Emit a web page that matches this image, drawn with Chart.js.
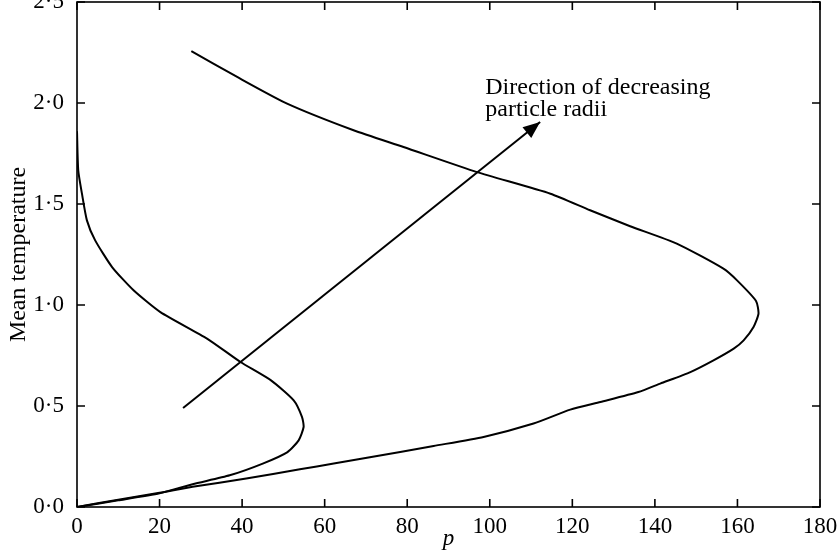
<!DOCTYPE html>
<html>
<head>
<meta charset="utf-8">
<script src="https://cdn.jsdelivr.net/npm/chart.js@4.4.0/dist/chart.umd.min.js"></script>
<style>
  body { margin: 0; background: #fff; }
  #wrap { width: 837px; height: 557px; }
</style>
</head>
<body>
<div id="wrap"><canvas id="radii"></canvas></div>
<script>
// inner branch (S shaped, comes back to the axis)
const innerP = [0, 10, 20, 28, 37, 45, 51, 53.7, 54.9, 54.5, 52.5, 47, 39.6, 31.5, 20.2, 13.7, 8.5, 4.4, 2.4, 1.2, 0.3, 0];
const innerT = [0, 0.033, 0.068, 0.113, 0.157, 0.215, 0.272, 0.33, 0.396, 0.446, 0.528, 0.627, 0.718, 0.834, 0.965, 1.073, 1.188, 1.32, 1.419, 1.551, 1.667, 1.86];

// outer branch
const outerP = [0, 10, 20, 28, 41, 54, 62.2, 78.3, 86.4, 98.5, 110.6, 119.5, 126.8, 136, 141.3, 148.6, 154.2, 159.1, 161.5, 163.9, 165.1, 164.5, 159.9, 156.6, 145.3, 134, 124.3, 114.7, 96.9, 79.1, 67, 50.9, 38.8, 27.7];
const outerT = [0, 0.036, 0.07, 0.1, 0.141, 0.187, 0.215, 0.272, 0.302, 0.347, 0.413, 0.482, 0.52, 0.569, 0.611, 0.668, 0.726, 0.784, 0.825, 0.891, 0.957, 1.02, 1.122, 1.18, 1.304, 1.39, 1.469, 1.551, 1.658, 1.782, 1.865, 1.997, 2.129, 2.257];

// arrow, tail then tip
const arrowP = [25.7, 112.2];
const arrowT = [0.49, 1.906];

const xTicks = [0, 20, 40, 60, 80, 100, 120, 140, 160, 180];
const yTicks = [0, 0.5, 1.0, 1.5, 2.0, 2.5];
const noteLines = ["Direction of decreasing", "particle radii"];

const serif = '"Liberation Serif", "DejaVu Serif", serif';
const fmt = v => v.toFixed(1).replace('.', '\u00b7');
const pts = (xs, ys) => xs.map((x, i) => ({ x: x, y: ys[i] }));

// frame, inward ticks on all four sides, y labels, arrow head and note
const frame = {
    id: 'frame',
    afterDatasetsDraw(chart) {
        const ctx = chart.ctx;
        const a = chart.chartArea;
        const x = chart.scales.x, y = chart.scales.y;
        ctx.save();
        ctx.strokeStyle = '#000';
        ctx.fillStyle = '#000';
        ctx.lineWidth = 1.6;
        ctx.strokeRect(a.left, a.top, a.right - a.left, a.bottom - a.top);
        ctx.beginPath();
        xTicks.forEach(v => {
            const px = x.getPixelForValue(v);
            ctx.moveTo(px, a.bottom); ctx.lineTo(px, a.bottom - 8);
            ctx.moveTo(px, a.top); ctx.lineTo(px, a.top + 8);
        });
        yTicks.forEach(v => {
            const py = y.getPixelForValue(v);
            ctx.moveTo(a.left, py); ctx.lineTo(a.left + 8, py);
            ctx.moveTo(a.right, py); ctx.lineTo(a.right - 8, py);
        });
        ctx.stroke();

        ctx.font = '23px ' + serif;
        ctx.textAlign = 'right';
        ctx.textBaseline = 'middle';
        yTicks.forEach(v => ctx.fillText(fmt(v), a.left - 13, y.getPixelForValue(v)));

        const n = arrowP.length - 1;
        const tx = x.getPixelForValue(arrowP[n]), ty = y.getPixelForValue(arrowT[n]);
        const fx = x.getPixelForValue(arrowP[n - 1]), fy = y.getPixelForValue(arrowT[n - 1]);
        const ang = Math.atan2(ty - fy, tx - fx);
        const c = Math.cos(ang), s = Math.sin(ang);
        const len = 17, half = 7;
        ctx.beginPath();
        ctx.moveTo(tx, ty);
        ctx.lineTo(tx - len * c + half * s, ty - len * s - half * c);
        ctx.lineTo(tx - len * c - half * s, ty - len * s + half * c);
        ctx.closePath();
        ctx.fill();

        ctx.font = '24px ' + serif;
        ctx.textAlign = 'left';
        ctx.textBaseline = 'alphabetic';
        const nx = x.getPixelForValue(98.9), ny = y.getPixelForValue(2.045);
        noteLines.forEach((t, i) => ctx.fillText(t, nx, ny + i * 22));
        ctx.restore();
    }
};

const line = (label, xs, ys) => ({
    label: label,
    data: pts(xs, ys),
    showLine: true,
    borderColor: '#000',
    borderWidth: 2,
    pointRadius: 0,
    tension: 0.2,
    fill: false
});

new Chart("radii", {
    type: "scatter",
    data: {
        datasets: [
            line("inner", innerP, innerT),
            line("outer", outerP, outerT),
            Object.assign(line("arrow", arrowP, arrowT), { tension: 0 })
        ]
    },
    options: {
        responsive: true,
        maintainAspectRatio: false,
        animation: false,
        layout: { padding: { top: 2, right: 17, left: 0, bottom: 0 } },
        plugins: {
            legend: { display: false },
            tooltip: { enabled: false }
        },
        scales: {
            x: {
                type: 'linear',
                min: 0,
                max: 180,
                afterFit: s => { s.height = 50; s.paddingLeft = 0; s.paddingRight = 0; },
                grid: { display: false, drawTicks: false },
                border: { display: false },
                ticks: { stepSize: 20, padding: 6, color: '#000', font: { family: serif, size: 23 } },
                title: {
                    display: true,
                    text: 'p',
                    color: '#000',
                    padding: { top: 0, bottom: 4 },
                    font: { family: serif, size: 23, style: 'italic' }
                }
            },
            y: {
                type: 'linear',
                min: 0,
                max: 2.5,
                afterFit: s => { s.width = 77; },
                grid: { display: false, drawTicks: false },
                border: { display: false },
                ticks: { display: false, stepSize: 0.5 },
                title: {
                    display: true,
                    text: 'Mean temperature',
                    color: '#000',
                    padding: { top: 4, bottom: 0 },
                    font: { family: serif, size: 24 }
                }
            }
        }
    },
    plugins: [frame]
});
</script>
</body>
</html>
